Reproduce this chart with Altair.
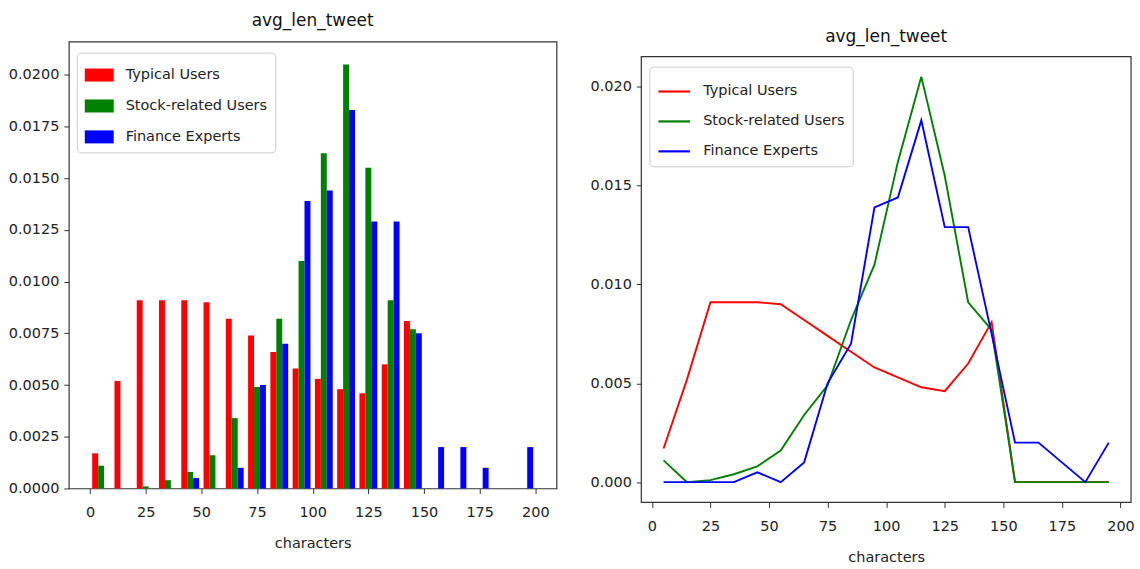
import altair as alt
import pandas as pd

# ---- data (density per 10-character bin) ----
bin_starts = [0, 10, 20, 30, 40, 50, 60, 70, 80, 90,
              100, 110, 120, 130, 140, 150, 160, 170, 180, 190]
series_names = ["Typical Users", "Stock-related Users", "Finance Experts"]
series_colors = ["#ff0000", "#008000", "#0000ff"]

typical = [0.0017, 0.0052, 0.0091, 0.0091, 0.0091, 0.0090, 0.0082, 0.0074, 0.0066, 0.0058,
           0.0053, 0.0048, 0.0046, 0.0060, 0.0081, 0.0, 0.0, 0.0, 0.0, 0.0]
stock = [0.0011, 0.0, 0.0001, 0.0004, 0.0008, 0.0016, 0.0034, 0.0049, 0.0082, 0.0110,
         0.0162, 0.0205, 0.0155, 0.0091, 0.0077, 0.0, 0.0, 0.0, 0.0, 0.0]
finance = [0.0, 0.0, 0.0, 0.0, 0.0005, 0.0, 0.0010, 0.0050, 0.0070, 0.0139,
           0.0144, 0.0183, 0.0129, 0.0129, 0.0075, 0.0020, 0.0020, 0.0010, 0.0, 0.0020]

x_ticks = [0, 25, 50, 75, 100, 125, 150, 175, 200]
left_y_ticks = [0.0, 0.0025, 0.005, 0.0075, 0.01, 0.0125, 0.015, 0.0175, 0.02]
right_y_ticks = [0.0, 0.005, 0.01, 0.015, 0.02]

rows = []
for idx, (name, vals) in enumerate(zip(series_names, [typical, stock, finance])):
    for b, v in zip(bin_starts, vals):
        rows.append({"bin": b, "series": name, "idx": idx, "value": v})
df = pd.DataFrame(rows)

FONT = "DejaVu Sans"
SPINE = "#333333"

color_scale = alt.Scale(domain=series_names, range=series_colors)

# ---- left: grouped histogram ----
left = (
    alt.Chart(df)
    .transform_filter("datum.value > 0")
    .transform_calculate(
        x1="datum.bin + 1 + datum.idx * 8 / 3",
        x2="datum.bin + 1 + (datum.idx + 1) * 8 / 3",
    )
    .mark_bar(stroke=None)
    .encode(
        x=alt.X("x1:Q", scale=alt.Scale(domain=[-9.5, 209.5], nice=False, zero=False),
                axis=alt.Axis(values=x_ticks, format="d", title="characters")),
        x2="x2:Q",
        y=alt.Y("value:Q", scale=alt.Scale(domain=[0, 0.0216], nice=False),
                axis=alt.Axis(values=left_y_ticks, format=".4f", title=None)),
        y2=alt.datum(0),
        color=alt.Color("series:N", scale=color_scale, sort=series_names,
                        legend=alt.Legend(title=None, orient="none", legendX=8, legendY=11,
                                          symbolType="M-1,-0.45H1V0.45H-1Z", symbolSize=841,
                                          symbolStrokeWidth=0, rowPadding=9)),
    )
    .properties(width=489, height=448, title="avg_len_tweet")
)

# ---- right: line chart (plot area starts 15 px lower than the left one) ----
R_W, R_H, R_TOP = 491, 462, 15

lines = (
    alt.Chart(df)
    .transform_calculate(center="datum.bin + 5")
    .mark_line(strokeWidth=1.9)
    .encode(
        x=alt.X("center:Q", scale=alt.Scale(domain=[-4.5, 204.5], nice=False, zero=False),
                axis=alt.Axis(values=x_ticks, format="d", title="characters")),
        y=alt.Y("value:Q",
                scale=alt.Scale(domain=[-0.001025, 0.021525], nice=False, zero=False,
                                range=[R_H, R_TOP]),
                axis=alt.Axis(values=right_y_ticks, format=".3f", title=None)),
        color=alt.Color("series:N", scale=color_scale, sort=series_names,
                        legend=alt.Legend(title=None, orient="none", legendX=8, legendY=25,
                                          symbolType="stroke", symbolSize=1000,
                                          symbolStrokeWidth=2.2, rowPadding=6)),
        order="bin:Q",
    )
)

frame = (
    alt.Chart(pd.DataFrame({"f": [0]}))
    .mark_rect(fill=None, stroke=SPINE, strokeWidth=1.2)
    .encode(x=alt.value(0), x2=alt.value(R_W), y=alt.value(R_TOP), y2=alt.value(R_H))
)

right = (
    alt.layer(frame, lines)
    .properties(width=R_W, height=R_H,
                title=alt.TitleParams(text="avg_len_tweet", offset=-4),
                view=alt.ViewBackground(stroke=None))
)

chart = (
    alt.hconcat(left, right, spacing=32)
    .resolve_legend(color="independent")
    .resolve_scale(y="independent", x="independent")
    .properties(padding={"left": 7, "top": 10, "right": 5, "bottom": 5})
    .configure_view(stroke=SPINE, strokeWidth=1.2)
    .configure_axis(
        domain=False, grid=False,
        labelFont=FONT, labelFontSize=14.5, labelColor="#222222",
        titleFont=FONT, titleFontSize=14.5, titleFontWeight="normal", titleColor="#222222",
        tickColor=SPINE, tickSize=5, labelPadding=5, titlePadding=25,
    )
    .configure_axisX(labelPadding=12, titlePadding=18)
    .configure_title(font=FONT, fontSize=17, fontWeight="normal", color="#111111",
                     offset=12, anchor="middle")
    .configure_legend(
        fillColor="white", strokeColor="#cccccc", cornerRadius=4, padding=8,
        labelFont=FONT, labelFontSize=14.5, labelColor="#222222",
        labelOffset=12, labelLimit=300,
    )
)

chart.save("out.html", embed_options={"renderer": "svg", "actions": False})
